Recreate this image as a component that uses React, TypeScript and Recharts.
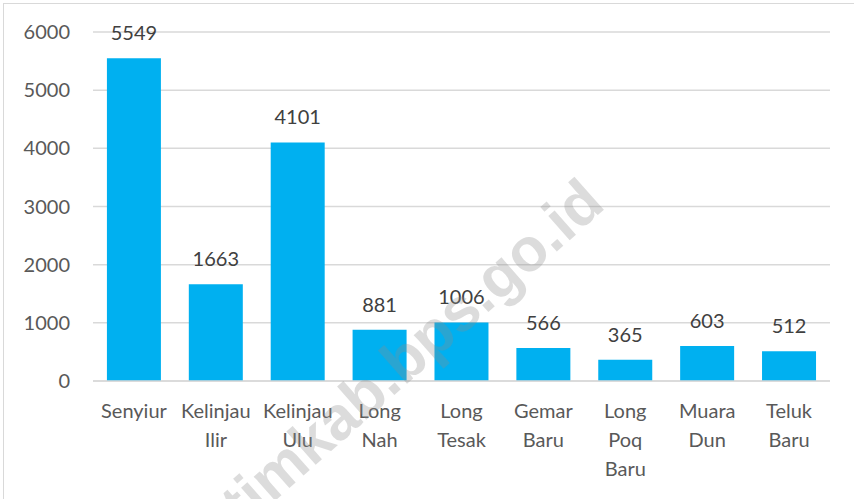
import React from 'react';
import { BarChart, Bar, XAxis, YAxis, CartesianGrid, LabelList } from 'recharts';

const categories = ['Senyiur', 'Kelinjau Ilir', 'Kelinjau Ulu', 'Long Nah', 'Long Tesak', 'Gemar Baru', 'Long Poq Baru', 'Muara Dun', 'Teluk Baru'];
const values = [5549, 1663, 4101, 881, 1006, 566, 365, 603, 512];
const yTicks = [0, 1000, 2000, 3000, 4000, 5000, 6000];

const data = categories.map((name, i) => ({ name, value: values[i] }));

const FONT = 'Lato, "Open Sans", sans-serif';

const CatTick = (props: any) => {
  const { x, y, payload } = props;
  const words = String(payload.value).split(' ');
  return (
    <g transform={`translate(${x},${y})`}>
      {words.map((w: string, i: number) => (
        <text key={i} x={0} y={i * 29} dy={29} textAnchor="middle" fill="#595959" fontSize={20} fontFamily={FONT}>
          {w}
        </text>
      ))}
    </g>
  );
};

export default function App() {
  return (
    <div style={{ position: 'absolute', left: 0, top: 0, width: 854, height: 499, background: '#fff', overflow: 'hidden' }}>
      <div style={{ position: 'absolute', left: 3, top: 3, width: 860, height: 510, border: '1px solid #d9d9d9' }} />
      <BarChart width={854} height={499} data={data} margin={{ top: 32, right: 24, left: 0, bottom: 18 }} barCategoryGap="17%">
        <CartesianGrid vertical={false} stroke="#d9d9d9" strokeWidth={1.5} />
        <XAxis dataKey="name" interval={0} tick={<CatTick />} tickLine={false} axisLine={{ stroke: '#d9d9d9', strokeWidth: 1.5 }} height={100} />
        <YAxis domain={[0, 6000]} ticks={yTicks} width={93} tickLine={false} axisLine={false} tick={{ fill: '#595959', fontSize: 20, fontFamily: FONT }} tickMargin={17} />
        <Bar dataKey="value" fill="#00b0f0" isAnimationActive={false}>
          <LabelList dataKey="value" position="top" offset={18} fill="#404040" fontSize={20} fontFamily={FONT} />
        </Bar>
      </BarChart>
      <svg width={854} height={499} style={{ position: 'absolute', left: 0, top: 0, pointerEvents: 'none' }}>
        <text x={607} y={207} textAnchor="end" transform="rotate(-41.5 607 207)" fontSize={61} fontWeight="bold" fontFamily='"Liberation Sans", Arial, sans-serif' fill="rgba(140,140,140,0.3)">
          kutimkab.bps.go.id
        </text>
      </svg>
    </div>
  );
}
